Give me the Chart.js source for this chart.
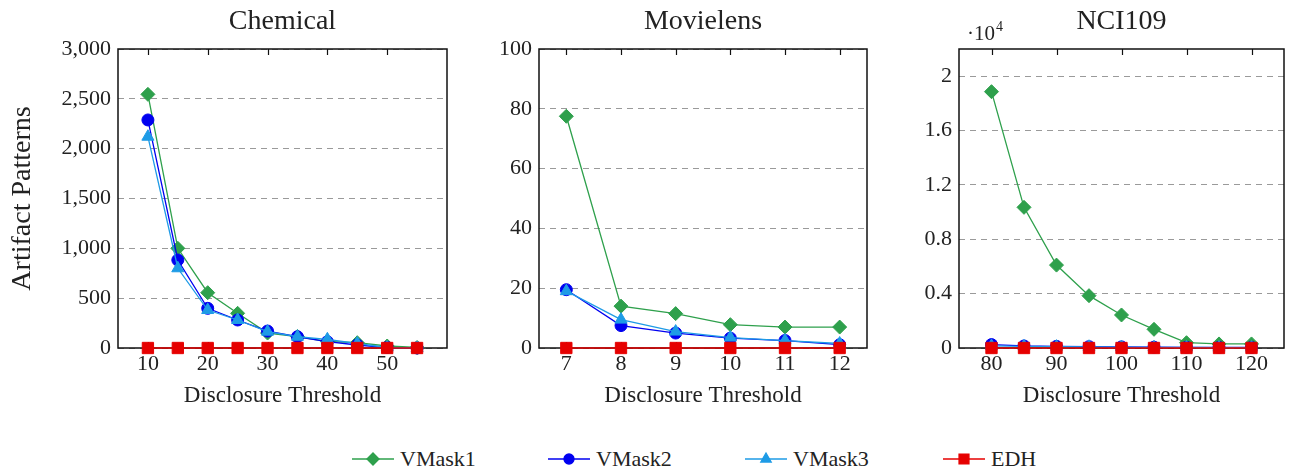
<!DOCTYPE html>
<html>
<head>
<meta charset="utf-8">
<title>Artifact Patterns</title>
<script src="https://cdn.jsdelivr.net/npm/chart.js@4.4.0/dist/chart.umd.min.js"></script>
<style>
  body { margin: 0; background: #fff; width: 1293px; height: 472px; position: relative; overflow: hidden;
         font-family: "Liberation Serif", serif; color: #222; }
  .panel { position: absolute; top: 0; }
  .item { position: absolute; top: 447px; display: flex; align-items: center; font-size: 22px; line-height: 24px; }
  .item canvas { margin-right: 6px; }
</style>
</head>
<body>
<div class="panel" style="left:0"><canvas id="chem" width="456" height="420"></canvas></div>
<div class="panel" style="left:456px"><canvas id="movie" width="420" height="420"></canvas></div>
<div class="panel" style="left:876px"><canvas id="nci" width="417" height="420"></canvas></div>
<div id="legend"></div>

<script>
// series
const seriesNames = ['VMask1', 'VMask2', 'VMask3', 'EDH'];
const seriesColors = ['#2ea04c', '#0000f0', '#1e9be6', '#e60000'];
const seriesMarkers = ['rectRot', 'circle', 'triangle', 'rect'];
const seriesRadius = [7, 6, 7, 8];

// Chemical
const chemThresholds = [10, 15, 20, 25, 30, 35, 40, 45, 50, 55];
const chemVMask1 = [2545, 1000, 555, 348, 150, 115, 65, 53, 20, 5];
const chemVMask2 = [2288, 883, 398, 281, 170, 113, 63, 30, 5, 0];
const chemVMask3 = [2120, 800, 381, 281, 164, 113, 87, 45, 5, 0];
const chemEDH = [0, 0, 0, 0, 0, 0, 0, 0, 0, 0];
const chemXTicks = [10, 20, 30, 40, 50];
const chemYTicks = [0, 500, 1000, 1500, 2000, 2500, 3000];

// Movielens
const movieThresholds = [7, 8, 9, 10, 11, 12];
const movieVMask1 = [77.5, 14, 11.5, 7.8, 7, 7];
const movieVMask2 = [19.5, 7.5, 5, 3.3, 2.5, 1.1];
const movieVMask3 = [19, 9.5, 5.5, 3.5, 2.5, 1.5];
const movieEDH = [0, 0, 0, 0, 0, 0];
const movieXTicks = [7, 8, 9, 10, 11, 12];
const movieYTicks = [0, 20, 40, 60, 80, 100];

// NCI109
const nciThresholds = [80, 85, 90, 95, 100, 105, 110, 115, 120];
const nciVMask1 = [18860, 10350, 6100, 3850, 2430, 1375, 390, 300, 300];
const nciVMask2 = [250, 150, 120, 100, 80, 60, 50, 40, 40];
const nciVMask3 = [150, 120, 100, 90, 70, 50, 40, 30, 30];
const nciEDH = [0, 0, 0, 0, 0, 0, 0, 0, 0];
const nciXTicks = [80, 90, 100, 110, 120];
const nciYTicks = [0, 4000, 8000, 12000, 16000, 20000];

const textColor = '#222';
const serif = '"Liberation Serif", serif';

// box around the plot, inward x ticks, panel title, optional exponent
const framePlugin = {
  id: 'frame',
  beforeDatasetsDraw(chart, args, opts) {
    const a = chart.chartArea;
    const ctx = chart.ctx;
    const xs = chart.scales.x;
    ctx.save();
    ctx.strokeStyle = '#111';
    ctx.lineWidth = 1.2;
    xs.ticks.forEach(t => {
      const px = Math.round(xs.getPixelForValue(t.value)) + 0.5;
      ctx.beginPath();
      ctx.moveTo(px, a.top); ctx.lineTo(px, a.top + 6);
      ctx.moveTo(px, a.bottom); ctx.lineTo(px, a.bottom - 6);
      ctx.stroke();
    });
    ctx.lineWidth = 1.5;
    ctx.strokeRect(a.left, a.top, a.right - a.left, a.bottom - a.top);
    ctx.restore();
  },
  afterDraw(chart, args, opts) {
    const a = chart.chartArea;
    const ctx = chart.ctx;
    ctx.save();
    ctx.fillStyle = textColor;
    ctx.textAlign = 'center';
    ctx.textBaseline = 'middle';
    ctx.font = '28px ' + serif;
    ctx.fillText(opts.title, (a.left + a.right) / 2, 22);
    if (opts.exponent) {
      ctx.textAlign = 'left';
      ctx.font = '21px ' + serif;
      ctx.fillText('\u00b710', a.left + 8, 34);
      const w = ctx.measureText('\u00b710').width;
      ctx.font = '14px ' + serif;
      ctx.fillText(opts.exponent, a.left + 8 + w + 1, 27);
    }
    ctx.restore();
  }
};

function makeChart(id, cfg) {
  const datasets = cfg.series.map((vals, i) => ({
    label: seriesNames[i],
    data: cfg.x.map((x, j) => ({ x: x, y: vals[j] })),
    borderColor: seriesColors[i],
    backgroundColor: seriesColors[i],
    pointStyle: seriesMarkers[i],
    pointRadius: seriesRadius[i],
    pointBorderWidth: 1,
    borderWidth: 1.3,
    tension: 0,
    clip: false,
    order: 4 - i
  }));

  return new Chart(document.getElementById(id), {
    type: 'line',
    data: { datasets: datasets },
    plugins: [framePlugin],
    options: {
      responsive: false,
      animation: false,
      events: [],
      layout: { padding: { top: 49, right: cfg.rightPad, bottom: 0, left: 0 } },
      plugins: {
        legend: { display: false },
        tooltip: { enabled: false },
        frame: { title: cfg.title, exponent: cfg.exponent }
      },
      scales: {
        x: {
          type: 'linear',
          min: cfg.xMin,
          max: cfg.xMax,
          afterBuildTicks: s => { s.ticks = cfg.xTicks.map(v => ({ value: v })); },
          afterFit: s => { s.height = 72; },
          grid: { display: false, drawTicks: false },
          border: { display: false },
          ticks: { color: textColor, font: { family: serif, size: 22 }, padding: 3, maxRotation: 0 },
          title: {
            display: true,
            text: 'Disclosure Threshold',
            color: textColor,
            font: { family: serif, size: 23 },
            padding: { top: 0, bottom: 10 }
          }
        },
        y: {
          type: 'linear',
          min: 0,
          max: cfg.yMax,
          afterBuildTicks: s => { s.ticks = cfg.yTicks.map(v => ({ value: v })); },
          afterFit: s => { s.width = cfg.yWidth; },
          grid: { color: '#9a9a9a', lineWidth: 1, drawTicks: false },
          border: { display: false, dash: [6, 5] },
          ticks: { color: textColor, font: { family: serif, size: 22 }, padding: 7, callback: cfg.yFormat },
          title: {
            display: !!cfg.yTitle,
            text: cfg.yTitle || '',
            color: textColor,
            font: { family: serif, size: 28 },
            padding: { top: 6, bottom: 0 }
          }
        }
      }
    }
  });
}

makeChart('chem', {
  title: 'Chemical',
  x: chemThresholds,
  series: [chemVMask1, chemVMask2, chemVMask3, chemEDH],
  xMin: 5, xMax: 60, xTicks: chemXTicks,
  yMax: 3000, yTicks: chemYTicks,
  yFormat: v => v.toLocaleString('en-US'),
  yTitle: 'Artifact Patterns',
  yWidth: 118, rightPad: 8
});

makeChart('movie', {
  title: 'Movielens',
  x: movieThresholds,
  series: [movieVMask1, movieVMask2, movieVMask3, movieEDH],
  xMin: 6.5, xMax: 12.5, xTicks: movieXTicks,
  yMax: 100, yTicks: movieYTicks,
  yFormat: v => String(v),
  yWidth: 83, rightPad: 7
});

makeChart('nci', {
  title: 'NCI109',
  x: nciThresholds,
  series: [nciVMask1, nciVMask2, nciVMask3, nciEDH],
  xMin: 75, xMax: 125, xTicks: nciXTicks,
  yMax: 22000, yTicks: nciYTicks,
  yFormat: v => String(v / 10000),
  exponent: '4',
  yWidth: 83, rightPad: 4
});

// shared legend under the panels
const legendLeft = [352, 548, 745, 943];
const legend = document.getElementById('legend');
seriesNames.forEach((name, i) => {
  const item = document.createElement('div');
  item.className = 'item';
  item.style.left = legendLeft[i] + 'px';
  const c = document.createElement('canvas');
  c.width = 42; c.height = 24;
  const ctx = c.getContext('2d');
  ctx.strokeStyle = seriesColors[i];
  ctx.fillStyle = seriesColors[i];
  ctx.lineWidth = 1.3;
  ctx.beginPath();
  ctx.moveTo(0, 12); ctx.lineTo(42, 12);
  ctx.stroke();
  Chart.helpers.drawPoint(ctx, {
    pointStyle: seriesMarkers[i], rotation: 0, radius: seriesRadius[i] - 1, borderWidth: 1
  }, 21, 12);
  item.appendChild(c);
  const label = document.createElement('span');
  label.textContent = name;
  item.appendChild(label);
  legend.appendChild(item);
});
</script>
</body>
</html>
